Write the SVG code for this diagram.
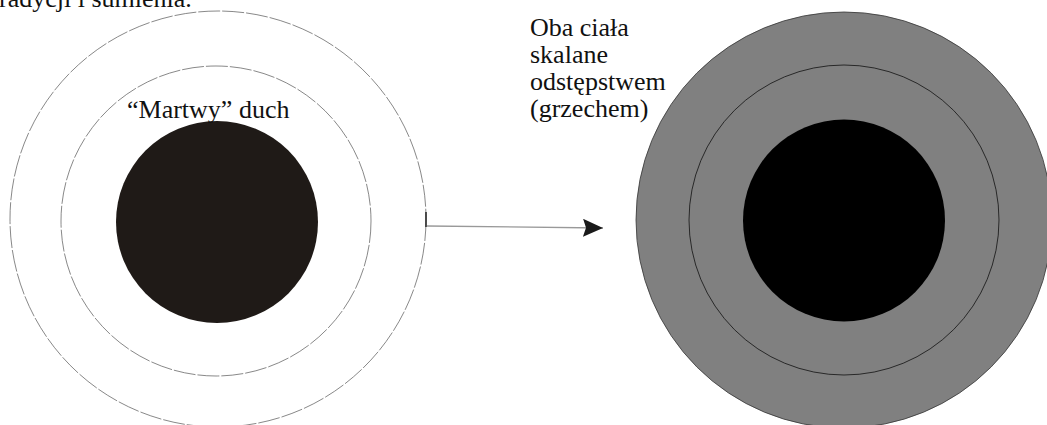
<svg xmlns="http://www.w3.org/2000/svg" width="1047" height="425" viewBox="0 0 1047 425">
<style>
.t{font-family:'Liberation Serif','DejaVu Serif',serif;fill:#111;font-size:26px}
.dash{fill:none;stroke:#555;stroke-width:0.7;stroke-dasharray:22 2}
</style>
<defs>
<marker id="ah" markerWidth="20" markerHeight="18" refX="20" refY="9" orient="auto" markerUnits="userSpaceOnUse">
<path d="M0,0 L20,9 L0,18 L3,9 Z" fill="#1a1a1a"/>
</marker>
</defs>
<rect width="1047" height="425" fill="#fff"/>
<text class="t" font-family="Liberation Serif, serif" x="-1" y="7" font-size="30.5">radycji i sumienia.</text>
<g id="left">
<circle class="dash" cx="218" cy="219" r="208"/>
<circle class="dash" cx="216" cy="221" r="155"/>
<circle cx="217" cy="222" r="101" fill="#1f1a17"/>
<text class="t" font-family="Liberation Serif, serif" x="127" y="118">“Martwy” duch</text>
</g>
<g id="right">
<circle cx="844" cy="220" r="208" fill="#808080" stroke="#333" stroke-width="0.8"/>
<circle cx="844" cy="220" r="155" fill="#808080" stroke="#111" stroke-width="0.8"/>
<circle cx="844" cy="220.5" r="101" fill="#000"/>
</g>
<g id="label">
<text class="t" font-family="Liberation Serif, serif" x="530" y="36">Oba ciała</text>
<text class="t" font-family="Liberation Serif, serif" x="530" y="63">skalane</text>
<text class="t" font-family="Liberation Serif, serif" x="530" y="90">odstępstwem</text>
<text class="t" font-family="Liberation Serif, serif" x="530" y="117">(grzechem)</text>
</g>
<g id="connectors">
<line x1="426" y1="212" x2="426" y2="227" stroke="#222" stroke-width="1.5"/>
<line x1="427" y1="226" x2="603" y2="228" stroke="#999" stroke-width="1.3" marker-end="url(#ah)"/>
</g>
</svg>
